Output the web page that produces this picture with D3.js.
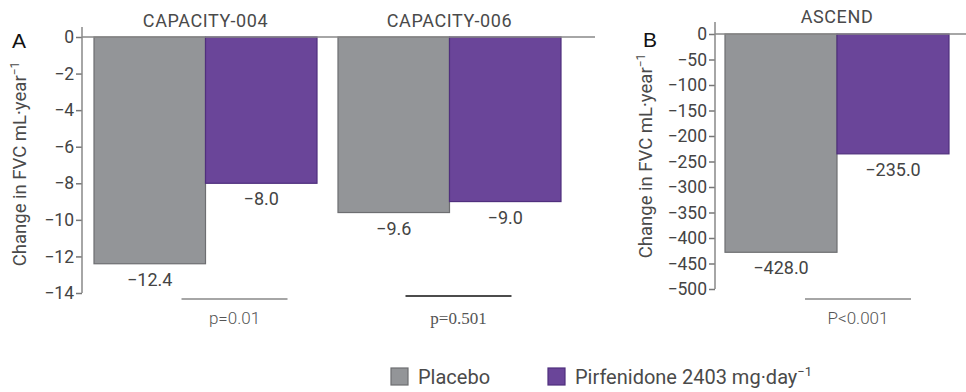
<!DOCTYPE html>
<html><head><meta charset="utf-8">
<script src="https://cdn.jsdelivr.net/npm/d3@7"></script>
<style>
html,body{margin:0;padding:0;background:#fff;}
svg{display:block;font-family:Roboto,"DejaVu Sans",sans-serif;}
</style></head>
<body><svg id="c" width="966" height="392"></svg>
<script>
// ---- data ----
const seriesNames = ["Placebo", "Pirfenidone 2403 mg·day"];
const studiesA = ["CAPACITY-004", "CAPACITY-006"];
const placeboA = [-12.4, -9.6];
const pirfenidoneA = [-8.0, -9.0];
const pValuesA = ["p=0.01", "p=0.501"];
const ticksA = [0, -2, -4, -6, -8, -10, -12, -14];
const studiesB = ["ASCEND"];
const placeboB = [-428.0];
const pirfenidoneB = [-235.0];
const pValuesB = ["P<0.001"];
const ticksB = [0, -50, -100, -150, -200, -250, -300, -350, -400, -450, -500];

const colors = {fill: ["#939598", "#6a4599"], stroke: ["#6d6e71", "#4f2f7d"]};
const textCol = "#4a4a4a";
const svg = d3.select("#c");

function panel(opt){
  const g = svg.append("g");
  const y = d3.scaleLinear().domain([0, opt.min]).range([opt.y0, opt.y1]);
  const x = d3.scaleBand().domain(opt.studies).range(opt.xr).paddingInner(opt.pad);
  const xs = d3.scaleBand().domain([0,1]).range([0, x.bandwidth()]);
  // axis
  const ax = g.append("g").attr("transform", `translate(${opt.ax},0)`)
    .call(d3.axisLeft(y).tickValues(opt.ticks).tickSize(6).tickPadding(2).tickFormat(d3.format("d")));
  ax.select(".domain").remove();
  ax.selectAll(".tick line").attr("stroke", "#777").attr("stroke-width", 1.5);
  ax.selectAll(".tick text").attr("fill", "#444").attr("font-size", 17.5)
    .attr("font-family", "Roboto");
  g.append("line").attr("x1", opt.ax).attr("x2", opt.ax).attr("y1", opt.top).attr("y2", y(opt.min))
    .attr("stroke", "#888").attr("stroke-width", 1.5);
  // bars
  opt.studies.forEach((s, i) => {
    [opt.placebo[i], opt.pirf[i]].forEach((v, k) => {
      const bx = x(s) + xs(k);
      g.append("rect").attr("x", bx).attr("y", y(0)).attr("width", xs.bandwidth())
        .attr("height", y(v) - y(0)).attr("fill", colors.fill[k])
        .attr("stroke", colors.stroke[k]).attr("stroke-width", 1.2);
      g.append("text").attr("x", bx + xs.bandwidth()/2).attr("y", y(v) + 22)
        .attr("text-anchor", "middle").attr("font-size", 18).attr("fill", "#444")
        .text(d3.format(".1f")(v).replace("-", "−"));
    });
    g.append("text").attr("x", x(s) + x.bandwidth()/2).attr("y", opt.titleBase)
      .attr("text-anchor", "middle").attr("font-size", 18).attr("fill", textCol)
      .attr("letter-spacing", 0.6).text(s);
    // p value
    const cx = x(s) + x.bandwidth()/2 + opt.pShift[i];
    const serif = opt.pvals[i] === "p=0.501";
    g.append("line").attr("x1", cx - 53).attr("x2", cx + 53).attr("y1", opt.pLineY[i]).attr("y2", opt.pLineY[i])
      .attr("stroke", serif ? "#111" : "#888").attr("stroke-width", 1.3);
    g.append("text").attr("x", cx).attr("y", 324).attr("text-anchor", "middle")
      .attr("font-size", 17).attr("fill", serif ? "#555" : "#555")
      .attr("font-family", serif ? "'Liberation Serif', serif" : "Roboto").attr("font-weight", serif ? 400 : 300)
      .text(opt.pvals[i]);
  });
  // zero line
  g.append("line").attr("x1", opt.ax).attr("x2", opt.zeroEnd).attr("y1", y(0)).attr("y2", y(0))
    .attr("stroke", "#888").attr("stroke-width", 1.5);
  // y title
  const t = g.append("text").attr("transform", `translate(${opt.titleX},${opt.titleY}) rotate(-90)`)
    .attr("text-anchor", "middle").attr("font-size", 18.5).attr("fill", textCol);
  t.append("tspan").text("Change in FVC mL·year");
  t.append("tspan").attr("dy", -7).attr("font-size", 12).text("−1");
  // panel letter
  g.append("text").attr("x", opt.letterX).attr("y", opt.letterY).attr("font-size", 21)
    .attr("fill", "#111").attr("font-family", "'Liberation Sans', Arial, sans-serif").text(opt.letter);
  return {x, y};
}

panel({studies: studiesA, placebo: placeboA, pirf: pirfenidoneA, pvals: pValuesA, ticks: ticksA,
  min: -14, y0: 37, y1: 293, xr: [94, 561], pad: 0.086, ax: 82, top: 27, zeroEnd: 595,
  pShift: [29, 9], pLineY: [299, 296], titleX: 26, titleY: 164, titleBase: 27,
  letter: "A", letterX: 12, letterY: 48});
panel({studies: studiesB, placebo: placeboB, pirf: pirfenidoneB, pvals: pValuesB, ticks: ticksB,
  min: -500, y0: 34, y1: 289, xr: [725, 949], pad: 0, ax: 715, top: 22, zeroEnd: 966,
  pShift: [21], pLineY: [299], titleX: 652, titleY: 156, titleBase: 23,
  letter: "B", letterX: 643, letterY: 47});

// legend
const leg = svg.append("g");
const legX = [391, 548];
seriesNames.forEach((n, k) => {
  leg.append("rect").attr("x", legX[k]).attr("y", 368).attr("width", 17).attr("height", 17)
    .attr("fill", colors.fill[k]).attr("stroke", colors.stroke[k]).attr("stroke-width", 1.2);
  const t = leg.append("text").attr("x", legX[k] + 27).attr("y", 384).attr("font-size", 20).attr("fill", textCol).text(n);
  if (k === 1) t.append("tspan").attr("dy", -8).attr("font-size", 13).text("−1");
});
</script></body></html>
